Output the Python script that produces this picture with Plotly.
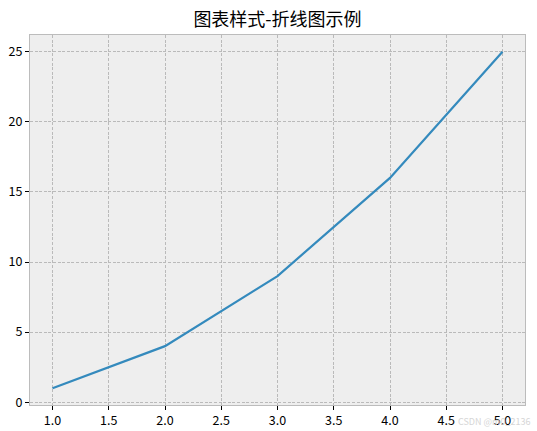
import plotly.graph_objects as go

x_vals = [1, 2, 3, 4, 5]
y_vals = [1, 4, 9, 16, 25]
x_ticks = [1.0, 1.5, 2.0, 2.5, 3.0, 3.5, 4.0, 4.5, 5.0]
y_ticks = [0, 5, 10, 15, 20, 25]
title_text = "图表样式-折线图示例"
watermark = "CSDN @m0_2136"

FONT = "Microsoft YaHei, Noto Sans CJK SC, sans-serif"

fig = go.Figure()
fig.add_trace(go.Scatter(x=x_vals, y=y_vals, mode="lines",
                         line=dict(color="#348ABD", width=2.2)))

axis_common = dict(
    showgrid=True, gridcolor="#bababa", gridwidth=0.8, griddash="3px,1.6px",
    showline=True, linecolor="#bcbcbc", linewidth=1, mirror=True,
    ticks="outside", ticklen=4, tickcolor="#000000", tickwidth=1,
    zeroline=False, automargin=False,
    tickfont=dict(family=FONT, size=12.5, color="#000000"),
)

fig.update_layout(
    width=537, height=431,
    margin=dict(l=30, r=12, t=35, b=26),
    paper_bgcolor="white", plot_bgcolor="#eeeeee",
    showlegend=False,
    title=dict(text=title_text, x=0.5, xref="paper", xanchor="center",
               y=1 - 20 / 431, yanchor="middle", automargin=False,
               font=dict(family=FONT, size=18, color="#000000")),
    xaxis=dict(range=[0.8, 5.2], tickvals=x_ticks,
               ticktext=[f"{v:.1f}" for v in x_ticks], **axis_common),
    yaxis=dict(range=[-0.2, 26.2], tickvals=y_ticks,
               ticktext=[str(v) for v in y_ticks], **axis_common),
    annotations=[dict(text=watermark, xref="paper", yref="paper",
                      x=1.0, y=-8 / 370, xanchor="right", yanchor="top",
                      xshift=7, showarrow=False,
                      font=dict(family=FONT, size=9, color="#d6d6d6"))],
)

fig.write_html("out.html",
               config={"displayModeBar": False},
               post_script="document.body.style.margin='0';document.body.style.overflow='hidden';")
